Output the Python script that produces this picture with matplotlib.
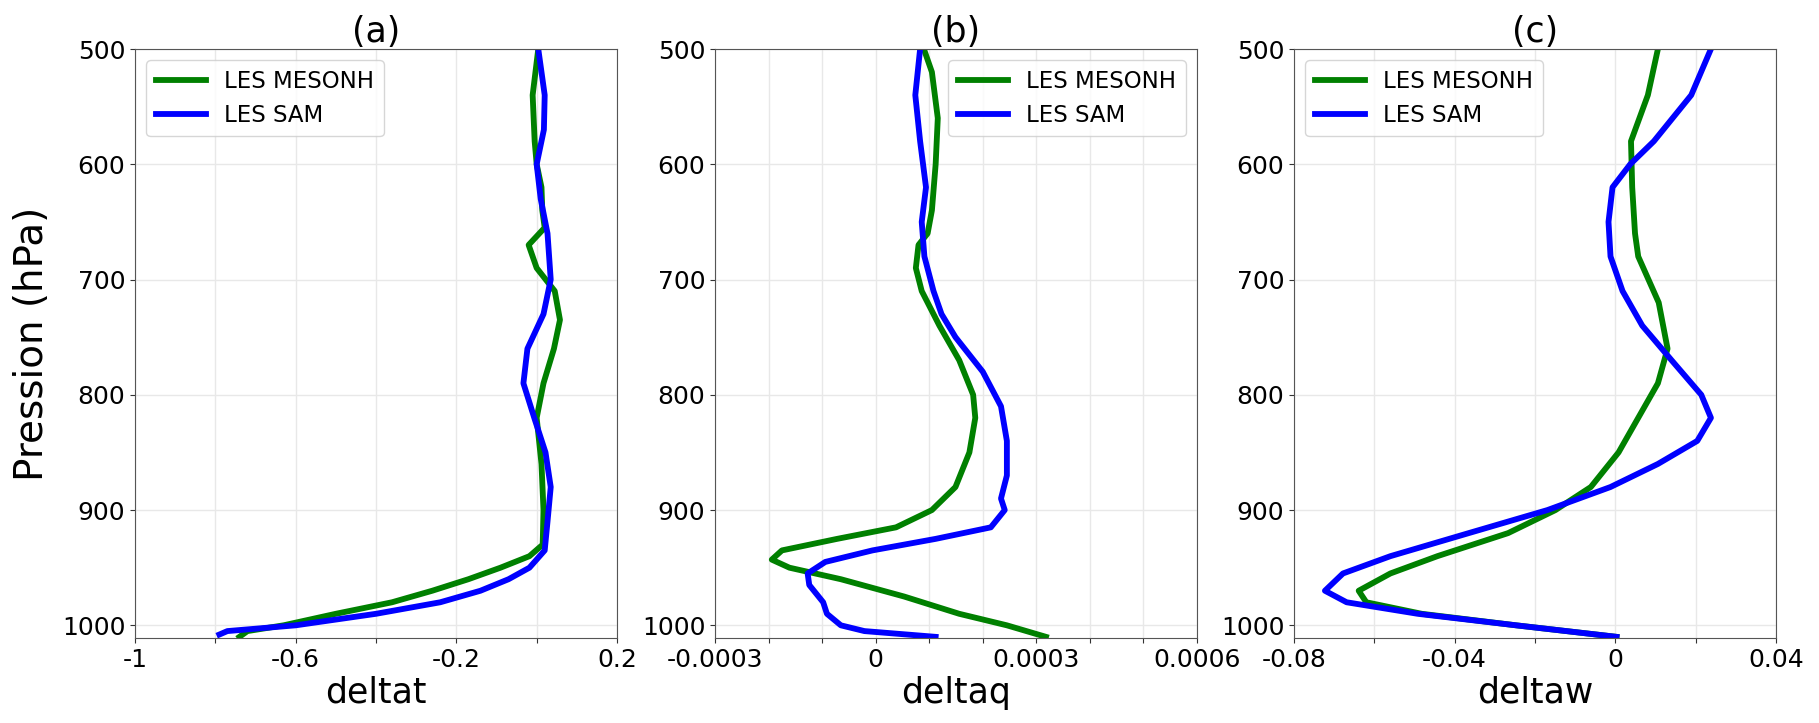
import matplotlib
matplotlib.use("Agg")
import matplotlib.pyplot as plt
import numpy as np

# ---------------- data ----------------
# panel (a) deltat
p_a_mes = [500, 540, 580, 600, 620, 640, 655, 670, 690, 710, 735, 760, 790, 820, 860, 900, 930, 940, 950, 960, 970, 980, 990, 1000, 1005, 1010]
v_a_mes = [0.004, -0.01, -0.005, 0.0, 0.012, 0.014, 0.02, -0.02, 0.0, 0.045, 0.058, 0.043, 0.017, 0.0, 0.012, 0.017, 0.015, -0.018, -0.09, -0.17, -0.26, -0.36, -0.5, -0.63, -0.72, -0.74]
p_a_sam = [500, 540, 570, 600, 630, 660, 700, 730, 760, 790, 820, 850, 880, 910, 935, 950, 960, 970, 980, 990, 1000, 1005, 1008]
v_a_sam = [0.004, 0.02, 0.018, 0.0, 0.01, 0.027, 0.035, 0.017, -0.023, -0.033, -0.006, 0.022, 0.035, 0.027, 0.02, -0.018, -0.07, -0.14, -0.24, -0.4, -0.6, -0.77, -0.79]

# panel (b) deltaq
p_b_mes = [500, 520, 560, 600, 640, 660, 670, 690, 710, 740, 770, 800, 820, 850, 880, 900, 915, 925, 935, 943, 950, 960, 975, 990, 1000, 1010]
v_b_mes = [0.90e-4, 1.05e-4, 1.16e-4, 1.12e-4, 1.05e-4, 0.97e-4, 0.80e-4, 0.75e-4, 0.86e-4, 1.19e-4, 1.56e-4, 1.82e-4, 1.86e-4, 1.75e-4, 1.49e-4, 1.05e-4, 0.38e-4, -0.72e-4, -1.75e-4, -1.94e-4, -1.61e-4, -0.65e-4, 0.53e-4, 1.56e-4, 2.45e-4, 3.18e-4]
p_b_sam = [500, 540, 580, 620, 650, 680, 710, 730, 750, 780, 810, 840, 870, 890, 900, 915, 925, 935, 945, 955, 965, 980, 990, 1000, 1005, 1010]
v_b_sam = [0.83e-4, 0.74e-4, 0.83e-4, 0.94e-4, 0.86e-4, 0.91e-4, 1.08e-4, 1.23e-4, 1.49e-4, 2.0e-4, 2.34e-4, 2.45e-4, 2.45e-4, 2.34e-4, 2.41e-4, 2.15e-4, 1.12e-4, -0.06e-4, -0.94e-4, -1.27e-4, -1.24e-4, -0.98e-4, -0.91e-4, -0.65e-4, -0.21e-4, 1.12e-4]

# panel (c) deltaw
p_c_mes = [500, 540, 580, 620, 660, 680, 720, 760, 790, 820, 850, 880, 900, 920, 940, 955, 970, 980, 990, 1000, 1010]
v_c_mes = [0.0106, 0.0081, 0.0039, 0.0042, 0.0049, 0.0057, 0.0108, 0.013, 0.0106, 0.0057, 0.0008, -0.0061, -0.0149, -0.0267, -0.0443, -0.056, -0.0639, -0.062, -0.0482, -0.0247, 0.0003]
p_c_sam = [500, 540, 580, 600, 620, 650, 680, 710, 740, 770, 800, 820, 840, 860, 880, 900, 920, 940, 955, 970, 980, 990, 1000, 1010]
v_c_sam = [0.0238, 0.0189, 0.0096, 0.0037, -0.0007, -0.0017, -0.0012, 0.0018, 0.0067, 0.014, 0.0214, 0.0238, 0.0204, 0.0106, -0.0012, -0.0169, -0.0365, -0.056, -0.0678, -0.0723, -0.0669, -0.0492, -0.0247, 0.0003]

titles = ["(a)", "(b)", "(c)"]
xlabels = ["deltat", "deltaq", "deltaw"]
series_names = ["LES MESONH", "LES SAM"]
y_ticks = [500, 600, 700, 800, 900, 1000]

x_ticks = [
    [-1.0, -0.8, -0.6, -0.4, -0.2, 0.0, 0.2],
    [-0.0003, -0.0002, -0.0001, 0.0, 0.0001, 0.0002, 0.0003, 0.0004, 0.0005, 0.0006],
    [-0.08, -0.06, -0.04, -0.02, 0.0, 0.02, 0.04],
]
x_ticklabels = [
    ["-1", "", "-0.6", "", "-0.2", "", "0.2"],
    ["-0.0003", "", "", "0", "", "", "0.0003", "", "", "0.0006"],
    ["-0.08", "", "-0.04", "", "0", "", "0.04"],
]
x_lims = [(-1.0, 0.2), (-0.0003, 0.0006), (-0.08, 0.04)]
legend_locs = ["upper left", "upper right", "upper left"]

data = [
    ((v_a_mes, p_a_mes), (v_a_sam, p_a_sam)),
    ((v_b_mes, p_b_mes), (v_b_sam, p_b_sam)),
    ((v_c_mes, p_c_mes), (v_c_sam, p_c_sam)),
]
colors = ["green", "blue"]

# ---------------- figure ----------------
W, H = 1819, 723
fig = plt.figure(figsize=(W / 100, H / 100), dpi=100)
lefts = [135, 715, 1294]
top, bottom = 49, 638
for i in range(3):
    ax = fig.add_axes([lefts[i] / W, 1 - bottom / H, 482 / W, (bottom - top) / H])
    for (xs, ps), c, name in zip(data[i], colors, series_names):
        ax.plot(xs, ps, color=c, lw=4.2, label=name, solid_joinstyle="round")
    ax.set_xlim(*x_lims[i])
    ax.set_ylim(1011, 500)
    ax.set_xticks(x_ticks[i])
    ax.set_xticklabels(x_ticklabels[i], fontsize=18)
    ax.set_yticks(y_ticks)
    ax.set_yticklabels([str(t) for t in y_ticks], fontsize=18)
    ax.grid(True, color="#e8e8e8", lw=1.0)
    ax.set_axisbelow(True)
    for s in ax.spines.values():
        s.set_color("#555555")
    ax.tick_params(colors="#333333", labelcolor="black")
    ax.set_title(titles[i], fontsize=25, pad=2)
    ax.set_xlabel(xlabels[i], fontsize=25, labelpad=3)
    if i == 0:
        ax.set_ylabel("Pression (hPa)", fontsize=28, labelpad=8)
    ax.legend(loc=legend_locs[i], fontsize=16.5, handlelength=2.2)

fig.savefig("out.png", dpi=100)
